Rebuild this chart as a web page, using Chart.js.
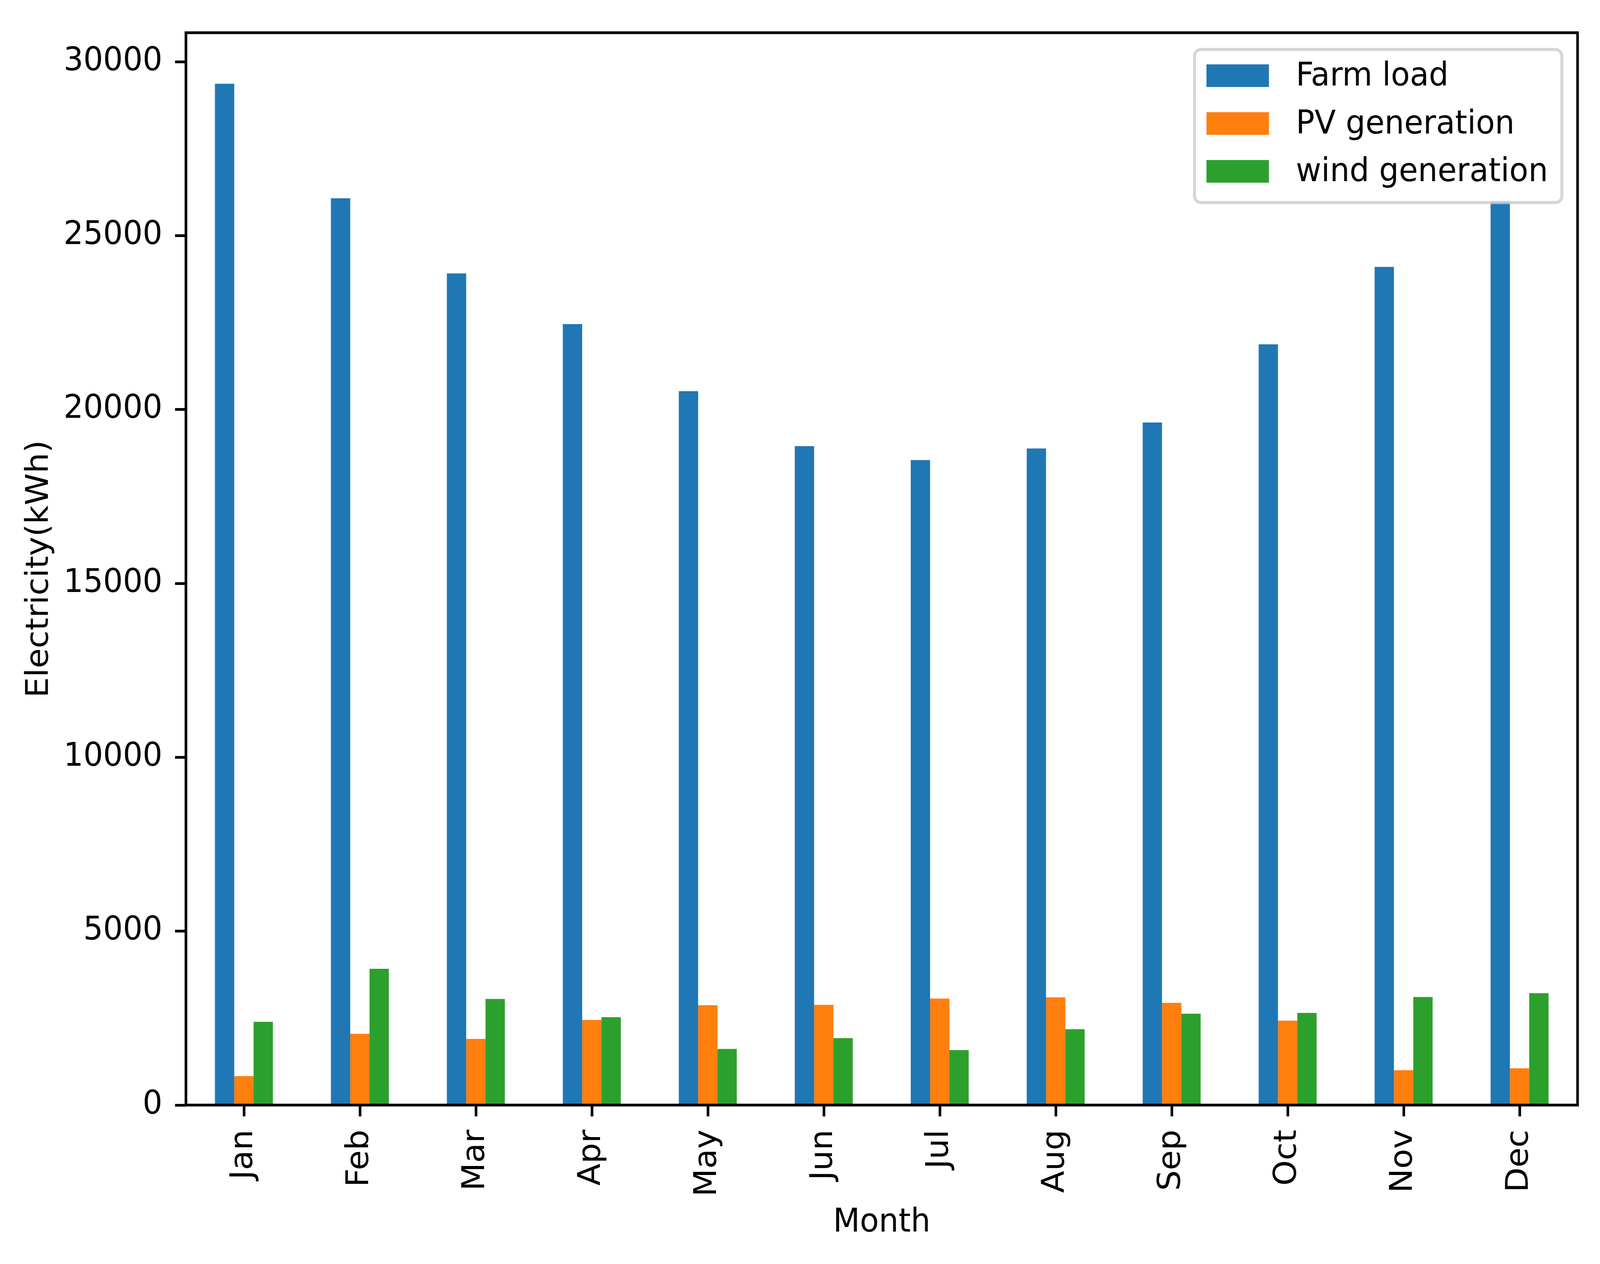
<!DOCTYPE html>
<html>
<head>
<meta charset="utf-8">
<script src="https://cdn.jsdelivr.net/npm/chart.js@4.4.0/dist/chart.umd.min.js"></script>
<style>
  html, body { margin: 0; padding: 0; background: #fff; overflow: hidden; }
  canvas { display: block; }
</style>
</head>
<body>
<canvas id="myChart" width="4277" height="3237"></canvas>
<script>
const months = ['Jan', 'Feb', 'Mar', 'Apr', 'May', 'Jun', 'Jul', 'Aug', 'Sep', 'Oct', 'Nov', 'Dec']
const farmLoad = [29365, 26072, 23912, 22454, 20528, 18947, 18546, 18880, 19626, 21875, 24101, 26000]
const pvGeneration = [835, 2048, 1904, 2449, 2872, 2883, 3061, 3095, 2939, 2427, 1002, 1058]
const windGeneration = [2393, 3918, 3050, 2527, 1614, 1926, 1581, 2182, 2627, 2649, 3106, 3217]
const seriesNames = ['Farm load', 'PV generation', 'wind generation']
const seriesColors = ['#1f77b4', '#ff7f0e', '#2ca02c']
const yTicks = [0, 5000, 10000, 15000, 20000, 25000, 30000]

const FONT = 'DejaVu Sans'
const FS = 83
const LW = 7

// spines + legend drawn by hand, matplotlib style
const frameAndLegend = {
    id: 'frameAndLegend',
    afterDatasetsDraw(chart) {
        const {ctx, chartArea: a} = chart
        ctx.save()
        ctx.strokeStyle = '#000'
        ctx.lineWidth = LW
        ctx.strokeRect(a.left, a.top, a.right - a.left, a.bottom - a.top)
        ctx.restore()
    },
    afterDraw(chart) {
        const {ctx, chartArea: a} = chart
        ctx.save()
        ctx.font = FS + 'px "' + FONT + '"'
        let maxW = 0
        chart.data.datasets.forEach(d => { maxW = Math.max(maxW, ctx.measureText(d.label).width) })
        const w = 32 + 167 + 72 + maxW + 37
        const h = 392
        const right = a.right - 42
        const top = a.top + 43
        const left = right - w
        ctx.beginPath()
        ctx.roundRect(left, top, w, h, 17)
        ctx.fillStyle = 'rgba(255,255,255,0.8)'
        ctx.fill()
        ctx.lineWidth = 8
        ctx.strokeStyle = 'rgba(204,204,204,0.8)'
        ctx.stroke()
        ctx.textBaseline = 'middle'
        ctx.textAlign = 'left'
        chart.data.datasets.forEach((d, i) => {
            const cy = top + 67 + i * 122.5
            ctx.fillStyle = d.backgroundColor
            ctx.fillRect(left + 32, cy - 29, 167, 58)
            ctx.fillStyle = '#000'
            ctx.fillText(d.label, left + 32 + 167 + 72, cy + 4)
        })
        ctx.restore()
    }
}

// the chart is drawn at 4277x3237 and the canvas is stretched to the viewport
let ctx = document.getElementById('myChart')
ctx.style.width = window.innerWidth + 'px'
ctx.style.height = window.innerHeight + 'px'

let myChart = new Chart(ctx, {
    type: 'bar',
    data: {
        labels: months,
        datasets: [
            { label: seriesNames[0], data: farmLoad, backgroundColor: seriesColors[0] },
            { label: seriesNames[1], data: pvGeneration, backgroundColor: seriesColors[1] },
            { label: seriesNames[2], data: windGeneration, backgroundColor: seriesColors[2] }
        ].map(d => Object.assign(d, { categoryPercentage: 0.5, barPercentage: 1.0, borderWidth: 0 }))
    },
    options: {
        responsive: false,
        devicePixelRatio: 1,
        animation: false,
        layout: { padding: { top: 60, right: 60, left: 0, bottom: 0 } },
        plugins: {
            legend: { display: false },
            tooltip: { enabled: false }
        },
        scales: {
            x: {
                grid: {
                    offset: false,
                    drawOnChartArea: false,
                    drawTicks: true,
                    tickLength: 29,
                    tickWidth: LW,
                    tickColor: '#000'
                },
                border: { display: false },
                ticks: {
                    color: '#000',
                    font: { family: FONT, size: FS },
                    maxRotation: 90,
                    minRotation: 90,
                    padding: 34,
                    autoSkip: false
                },
                title: {
                    display: true,
                    text: 'Month',
                    color: '#000',
                    font: { family: FONT, size: FS },
                    padding: { top: 0, bottom: 55 }
                },
                afterFit(scale) { scale.height = 407 }
            },
            y: {
                min: 0,
                max: Math.max(...farmLoad) * 1.05,
                grid: {
                    drawOnChartArea: false,
                    drawTicks: true,
                    tickLength: 29,
                    tickWidth: LW,
                    tickColor: '#000'
                },
                border: { display: false },
                ticks: {
                    color: '#000',
                    font: { family: FONT, size: FS },
                    stepSize: 5000,
                    padding: 34,
                    callback: v => String(v)
                },
                afterBuildTicks(scale) {
                    scale.ticks = yTicks.map(v => ({ value: v }))
                },
                title: {
                    display: true,
                    text: 'Electricity(kWh)',
                    color: '#000',
                    font: { family: FONT, size: FS },
                    padding: { top: 57, bottom: 0 }
                },
                afterFit(scale) { scale.width = 497 }
            }
        }
    },
    plugins: [frameAndLegend]
})
</script>
</body>
</html>
